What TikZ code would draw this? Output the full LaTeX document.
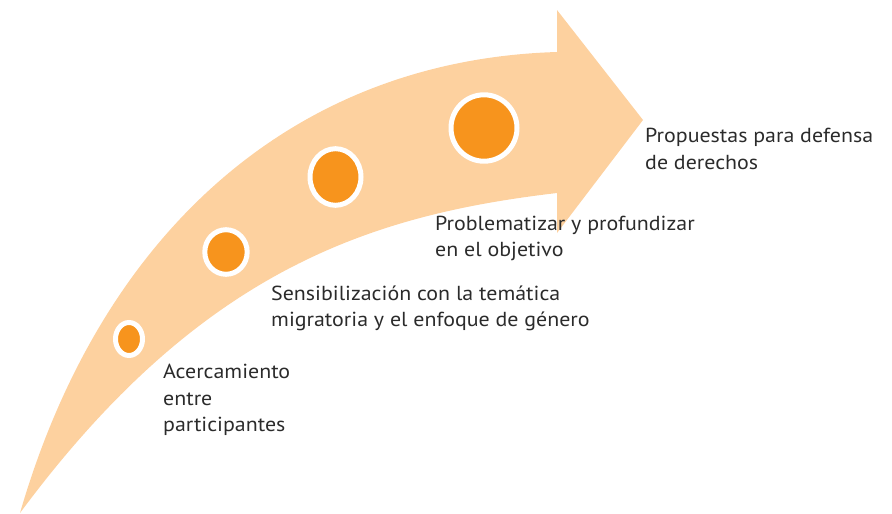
\documentclass[tikz,border=0pt]{standalone}
\usepackage{fontspec}
\setmainfont{PT Sans}[FakeStretch=1.08]
\usetikzlibrary{shapes.geometric}
\definecolor{peach}{HTML}{FDD19F}
\definecolor{dotorange}{HTML}{F7941D}
\definecolor{txt}{HTML}{2B2B2B}
\tikzset{
  dot/.style={ellipse, fill=dotorange, draw=white, line width=5pt, inner sep=0pt},
  lbl/.style={anchor=base west, align=left, inner sep=0pt, text=txt,
    font=\fontsize{20.3}{26.6}\selectfont}
}
\begin{document}
\begin{tikzpicture}[x=1pt,y=-1pt]
\useasboundingbox (0,0) rectangle (892,514);
% arrow body
\fill[peach] (20,513) .. controls (101,234) and (292,60) .. (557,52)
  -- (557,10) -- (643,120) -- (557,233) -- (557,193)
  .. controls (370,215) and (200,270) .. (20,513) -- cycle;
% dots
\node[dot, minimum width=27pt, minimum height=33pt] (d1) at (129,339) {};
\node[dot, minimum width=42.4pt, minimum height=44.6pt] (d2) at (226,252) {};
\node[dot, minimum width=51pt, minimum height=56.6pt] (d3) at (335.5,177) {};
\node[dot, minimum width=66pt, minimum height=66.4pt] (d4) at (484,128) {};
% labels (anchor = baseline of last line)
\node[lbl] (t1) at (163,431.7) {Acercamiento\\entre\\participantes};
\node[lbl] (t2) at (271,326.7) {Sensibilización con la temática\\migratoria y el enfoque de género};
\node[lbl] (t3) at (435,256.7) {Problematizar y profundizar\\en el objetivo};
\node[lbl] (t4) at (645,169) {Propuestas para defensa\\de derechos};
\end{tikzpicture}
\end{document}
